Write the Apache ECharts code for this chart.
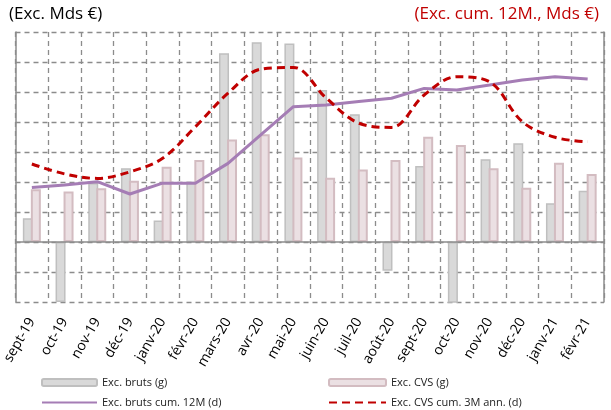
<!DOCTYPE html>
<html>
<head>
<meta charset="utf-8">
<script src="https://cdn.jsdelivr.net/npm/echarts@6/dist/echarts.min.js"></script>
<style>
  html, body { margin: 0; padding: 0; background: #fff; }
  #chart { width: 611px; height: 410px; }
</style>
</head>
<body>
<div id="chart"></div>
<script>
// mois
const months = ["sept-19", "oct-19", "nov-19", "déc-19", "janv-20", "févr-20", "mars-20", "avr-20", "mai-20",
  "juin-20", "juil-20", "août-20", "sept-20", "oct-20", "nov-20", "déc-20", "janv-21", "févr-21"];

// excédents bruts (axe gauche)
const bruts = [0.79, -2.0, 1.97, 2.46, 0.72, 2.01, 6.29, 6.66, 6.62, 5.07, 4.26, -0.96, 2.53, -2.03, 2.76, 3.29, 1.29, 1.71];
// excédents CVS (axe gauche)
const cvs = [1.76, 1.68, 1.79, 2.04, 2.51, 2.73, 3.42, 3.59, 2.82, 2.14, 2.42, 2.73, 3.51, 3.23, 2.46, 1.81, 2.64, 2.27];
// cumul 12 mois bruts (axe droit)
const brutsCum12 = [1.82, 1.9, 2.01, 1.6, 1.96, 1.96, 2.62, 3.57, 4.51, 4.57, 4.68, 4.79, 5.12, 5.07, 5.23, 5.4, 5.51, 5.43];
// cumul 3 mois annualisé CVS (axe droit)
const cvsCum3 = [2.6, 2.27, 2.12, 2.34, 2.79, 3.84, 4.96, 5.76, 5.82, 4.8, 3.96, 3.82, 4.9, 5.51, 5.34, 4.01, 3.49, 3.34];

const chart = echarts.init(document.getElementById("chart"));
const font = "'Open Sans', 'Liberation Sans', sans-serif";
const gridLine = { color: "#8c8c8c", width: 1.3, type: [5, 4] };
const legendText = { fontSize: 11, color: "#222" };

const option = {
  animation: false,
  textStyle: { fontFamily: font },
  graphic: [
    { type: "text", left: 9, top: 6, style: { text: "(Exc. Mds €)", font: "17px " + font, fill: "#000" } },
    { type: "text", right: 12, top: 6, style: { text: "(Exc. cum. 12M., Mds €)", font: "17px " + font, fill: "#c00000" } }
  ],
  legend: [
    { left: 36, top: 372, itemWidth: 55, itemHeight: 7, itemGap: 6, textStyle: legendText, data: ["Exc. bruts (g)"] },
    { left: 323, top: 372, itemWidth: 57, itemHeight: 7, itemGap: 6, textStyle: legendText, data: ["Exc. CVS (g)"] },
    { left: 36, top: 392, itemWidth: 55, itemHeight: 10, itemGap: 6, textStyle: legendText, itemStyle: { opacity: 0 }, data: ["Exc. bruts cum. 12M (d)"] },
    { left: 323, top: 392, itemWidth: 57, itemHeight: 10, itemGap: 6, textStyle: legendText, itemStyle: { opacity: 0 }, data: ["Exc. CVS cum. 3M ann. (d)"] }
  ],
  grid: { left: 15, right: 7, top: 32, bottom: 108 },
  xAxis: {
    type: "category",
    data: months,
    axisLine: { onZero: false, show: false },
    axisTick: { show: false },
    axisLabel: { rotate: 60, margin: 17, fontSize: 14, color: "#000", interval: 0 },
    splitLine: { show: true, interval: 0, lineStyle: gridLine }
  },
  yAxis: [
    {
      type: "value", min: -2, max: 7, interval: 1,
      axisLabel: { show: false },
      axisTick: { show: false },
      axisLine: { show: true, lineStyle: { color: "#8c8c8c", width: 1.5 } },
      splitLine: { show: true, lineStyle: gridLine }
    },
    {
      type: "value", min: -2, max: 7, interval: 1,
      axisLabel: { show: false },
      axisTick: { show: false },
      axisLine: { show: true, lineStyle: { color: "#8c8c8c", width: 1.5 } },
      splitLine: { show: false }
    }
  ],
  series: [
    {
      name: "Exc. bruts (g)",
      type: "bar",
      data: bruts,
      barWidth: 10,
      barGap: "-20%",
      itemStyle: { color: "#d9d9d9", borderColor: "#bfbfbf", borderWidth: 1.5 },
      markLine: {
        silent: true, symbol: "none", label: { show: false },
        lineStyle: { color: "#8c8c8c", width: 1.5, type: "solid" },
        data: [{ yAxis: 0 }]
      }
    },
    {
      name: "Exc. CVS (g)",
      type: "bar",
      data: cvs,
      barWidth: 10,
      itemStyle: { color: "#ebe0e3", borderColor: "#d3bcc1", borderWidth: 2 }
    },
    {
      name: "Exc. bruts cum. 12M (d)",
      type: "line",
      yAxisIndex: 1,
      data: brutsCum12,
      symbol: "none",
      lineStyle: { color: "#a57db5", width: 3 },
      itemStyle: { color: "#a57db5" }
    },
    {
      name: "Exc. CVS cum. 3M ann. (d)",
      type: "line",
      yAxisIndex: 1,
      data: cvsCum3,
      smooth: 0.35,
      symbol: "none",
      lineStyle: { color: "#c00000", width: 3, type: [8, 5] },
      itemStyle: { color: "#c00000" }
    }
  ]
};

chart.setOption(option);
</script>
</body>
</html>
